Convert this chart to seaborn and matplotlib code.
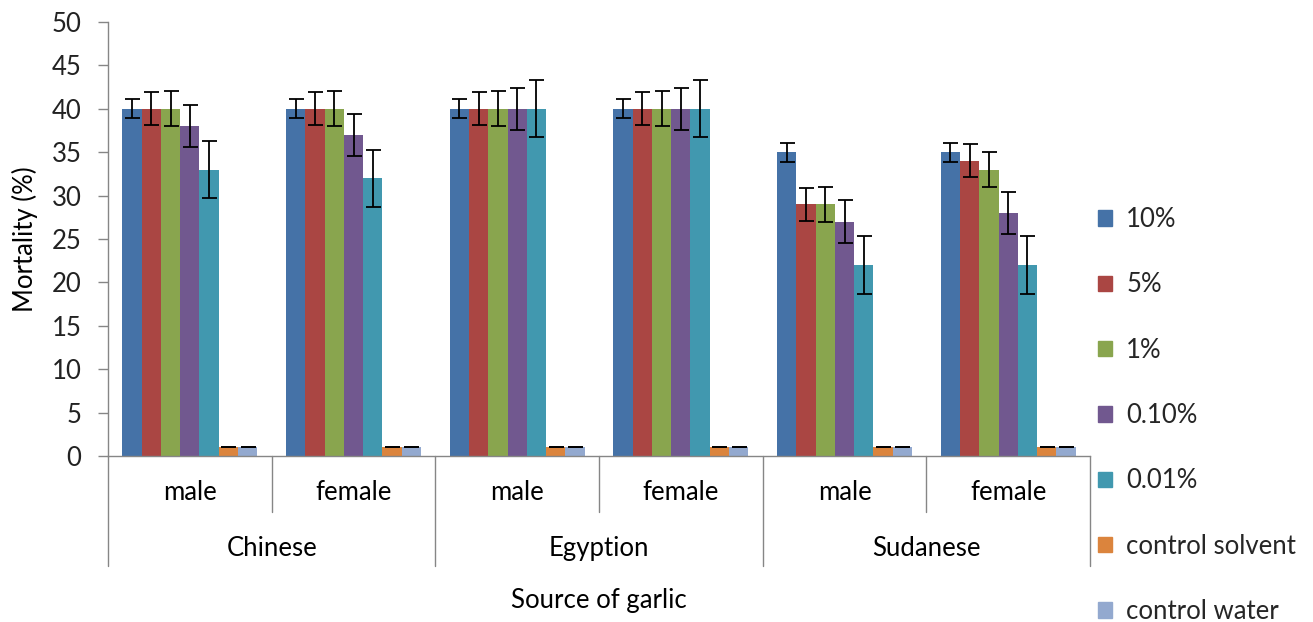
import numpy as np
import pandas as pd
import matplotlib
matplotlib.use("Agg")
import matplotlib.pyplot as plt
import matplotlib.patches as mpatches
import matplotlib.transforms as mtransforms
import seaborn as sns

countries = ["Chinese", "Egyption", "Sudanese"]
sexes = ["male", "female"]
concentrations = ["10%", "5%", "1%", "0.10%", "0.01%", "control solvent", "control water"]
colors = ["#4572A7", "#AA4643", "#89A54E", "#71588F", "#4198AF", "#DB843D", "#93A9CF"]

# mortality per group (rows: Chinese m, Chinese f, Egyption m, Egyption f, Sudanese m, Sudanese f)
mortality = [
    [40, 40, 40, 38, 33, 1, 1],
    [40, 40, 40, 37, 32, 1, 1],
    [40, 40, 40, 40, 40, 1, 1],
    [40, 40, 40, 40, 40, 1, 1],
    [35, 29, 29, 27, 22, 1, 1],
    [35, 34, 33, 28, 22, 1, 1],
]
errors = [
    [1.1, 1.9, 2.0, 2.45, 3.3, 0, 0],
    [1.1, 1.9, 2.0, 2.45, 3.3, 0, 0],
    [1.1, 1.9, 2.0, 2.45, 3.3, 0, 0],
    [1.1, 1.9, 2.0, 2.45, 3.3, 0, 0],
    [1.1, 1.9, 2.0, 2.45, 3.3, 0, 0],
    [1.1, 1.9, 2.0, 2.45, 3.3, 0, 0],
]
yticks = [0, 5, 10, 15, 20, 25, 30, 35, 40, 45, 50]

sns.set_theme(style="white")
plt.rcParams["font.family"] = ["Lato", "DejaVu Sans"]
FS = 18.5

groups = [f"{c}|{s}" for c in countries for s in sexes]
rows = []
for gi, g in enumerate(groups):
    for ci, conc in enumerate(concentrations):
        rows.append({"group": g, "conc": conc, "value": mortality[gi][ci], "err": errors[gi][ci]})
df = pd.DataFrame(rows)

fig = plt.figure(figsize=(13.13, 6.22), dpi=100)
ax = fig.add_axes([108/1313, 1-456/622, (1090-108)/1313, (456-22)/622])

sns.barplot(data=df, x="group", y="value", hue="conc", order=groups, hue_order=concentrations,
            palette=colors, width=0.825, errorbar=None, legend=False, ax=ax,
            linewidth=0, saturation=1)

# error bars from bar positions
bar_containers = list(ax.containers)
for ci, cont in enumerate(bar_containers):
    for gi, p in enumerate(cont.patches):
        xc = p.get_x() + p.get_width() / 2
        ax.errorbar(xc, p.get_height(), yerr=errors[gi][ci], color="black",
                    capsize=5.4, elinewidth=1.3, capthick=1.3, fmt="none", zorder=5)

ax.set_ylim(0, 50)
ax.set_xlim(-0.5, len(groups) - 0.5)
ax.set_yticks(yticks)
ax.set_yticklabels([str(t) for t in yticks], fontsize=FS, color="#222222")
ax.tick_params(axis="y", which="both", left=True, length=7, width=1, color="#868686", pad=12)
ax.set_xticks([])
ax.set_xlabel("")
ax.set_ylabel("Mortality (%)", fontsize=FS, color="black", labelpad=10)
for s in ["top", "right"]:
    ax.spines[s].set_visible(False)
for s in ["left", "bottom"]:
    ax.spines[s].set_color("#868686")
    ax.spines[s].set_linewidth(1)

trans = mtransforms.blended_transform_factory(ax.transData, ax.transAxes)
# separators
for x in [0.5, 2.5, 4.5]:
    ax.plot([x, x], [0, -0.129], transform=trans, color="#868686", lw=1, clip_on=False)
for x in [-0.5, 1.5, 3.5, 5.5]:
    ax.plot([x, x], [0, -0.2535], transform=trans, color="#868686", lw=1, clip_on=False)
for gi, g in enumerate(groups):
    ax.text(gi, -0.083, g.split("|")[1], transform=trans, ha="center", va="center", fontsize=FS, color="black")
for ci, c in enumerate(countries):
    ax.text(2 * ci + 0.5, -0.212, c, transform=trans, ha="center", va="center", fontsize=FS, color="black")
ax.text(0.5, -0.332, "Source of garlic", transform=ax.transAxes, ha="center", va="center", fontsize=FS, color="black")

handles = [mpatches.Patch(color=col, label=lab) for col, lab in zip(colors, concentrations)]
fig.legend(handles=handles, loc="upper left", bbox_to_anchor=(1098/1313, 1-207/622), frameon=False,
           fontsize=FS, handlelength=0.55, handleheight=0.55, handletextpad=0.55, labelspacing=1.57,
           borderaxespad=0, borderpad=0)

fig.savefig("out.png", dpi=100)
